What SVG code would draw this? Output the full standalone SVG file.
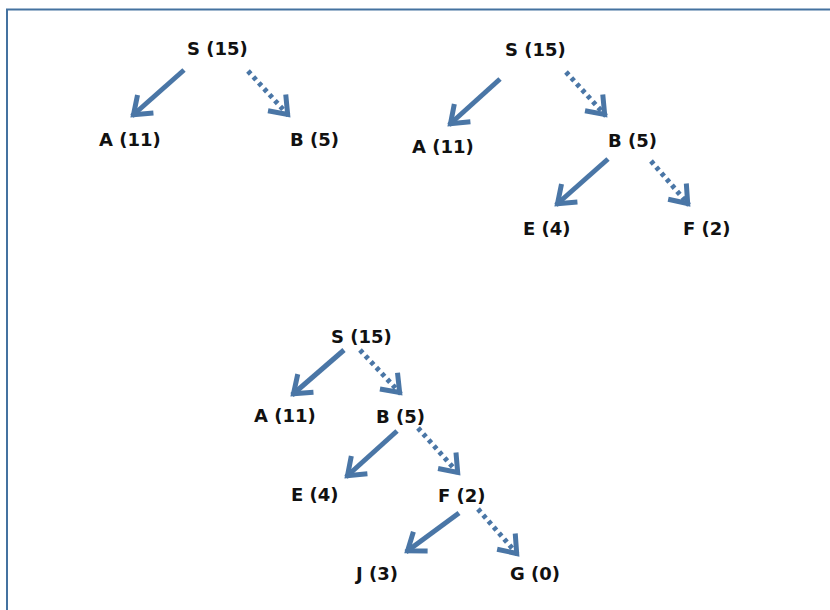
<svg xmlns="http://www.w3.org/2000/svg" width="830" height="610" viewBox="0 0 830 610">
  <style>
    .lbl { font-family: "DejaVu Sans", Verdana, sans-serif; font-weight: bold; font-size: 18px; fill: #111; }
    .edge { stroke: #4A76A6; stroke-width: 5; fill: none; }
    .dot { stroke-dasharray: 4 4; }
  </style>
  <defs>
    <marker id="head" markerUnits="userSpaceOnUse" viewBox="-30 -20 40 40" refX="0" refY="0" markerWidth="40" markerHeight="40" orient="auto">
      <path d="M-18,-12 L-2,0 L-18,12" fill="none" stroke="#4A76A6" stroke-width="5" stroke-linejoin="miter"/>
    </marker>
  </defs>
  <rect x="0" y="0" width="830" height="610" fill="#fff"/>
  <!-- frame: top and left edges visible -->
  <path d="M7,612 L7,9.5 L832,9.5" fill="none" stroke="#4472A0" stroke-width="2"/>

  <g id="connectors">
    <!-- tree 1 -->
    <line class="edge" x1="184" y1="70" x2="132" y2="116" marker-end="url(#head)"/>
    <line class="edge dot" x1="248" y1="71" x2="289" y2="116" marker-end="url(#head)"/>
    <!-- tree 2 -->
    <line class="edge" x1="500" y1="79" x2="449" y2="125" marker-end="url(#head)"/>
    <line class="edge dot" x1="566" y1="72" x2="606" y2="116" marker-end="url(#head)"/>
    <line class="edge" x1="608" y1="159" x2="556" y2="205" marker-end="url(#head)"/>
    <line class="edge dot" x1="651" y1="161" x2="689" y2="205" marker-end="url(#head)"/>
    <!-- tree 3 -->
    <line class="edge" x1="344" y1="350" x2="292" y2="395" marker-end="url(#head)"/>
    <line class="edge dot" x1="360" y1="350" x2="401" y2="394" marker-end="url(#head)"/>
    <line class="edge" x1="397" y1="431" x2="346" y2="477" marker-end="url(#head)"/>
    <line class="edge dot" x1="418" y1="428" x2="459" y2="474" marker-end="url(#head)"/>
    <line class="edge" x1="459" y1="513" x2="406" y2="552" marker-end="url(#head)"/>
    <line class="edge dot" x1="478" y1="509" x2="518" y2="555" marker-end="url(#head)"/>
  </g>

  <!-- tree 1 -->
  <g id="t1-S"><text class="lbl" x="187" y="55">S (15)</text></g>
  <g id="t1-A"><text class="lbl" x="99" y="146">A (11)</text></g>
  <g id="t1-B"><text class="lbl" x="290" y="146">B (5)</text></g>

  <!-- tree 2 -->
  <g id="t2-S"><text class="lbl" x="505" y="56">S (15)</text></g>
  <g id="t2-A"><text class="lbl" x="412" y="153">A (11)</text></g>
  <g id="t2-B"><text class="lbl" x="608" y="147">B (5)</text></g>
  <g id="t2-E"><text class="lbl" x="523" y="235">E (4)</text></g>
  <g id="t2-F"><text class="lbl" x="683" y="235">F (2)</text></g>

  <!-- tree 3 -->
  <g id="t3-S"><text class="lbl" x="331" y="343">S (15)</text></g>
  <g id="t3-A"><text class="lbl" x="254" y="422">A (11)</text></g>
  <g id="t3-B"><text class="lbl" x="376" y="423">B (5)</text></g>
  <g id="t3-E"><text class="lbl" x="291" y="501">E (4)</text></g>
  <g id="t3-F"><text class="lbl" x="438" y="502">F (2)</text></g>
  <g id="t3-J"><text class="lbl" x="356" y="580">J (3)</text></g>
  <g id="t3-G"><text class="lbl" x="510" y="580">G (0)</text></g>
</svg>
